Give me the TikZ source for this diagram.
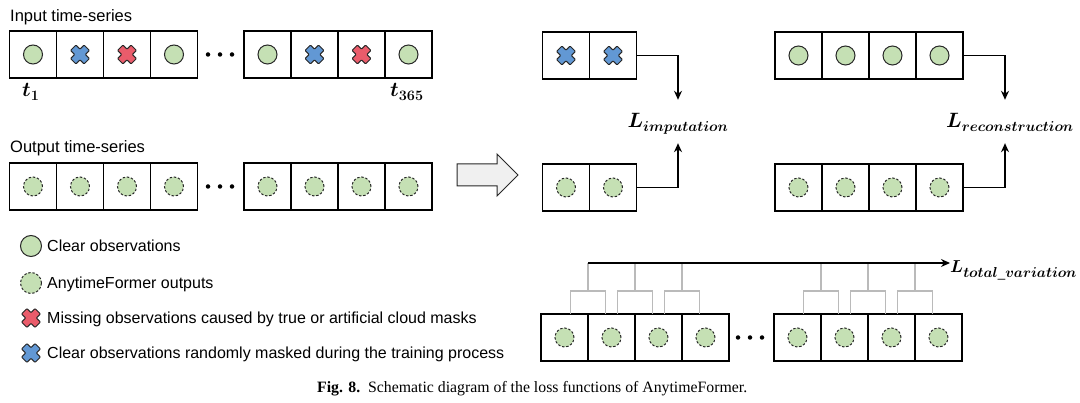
\documentclass[tikz,border=0pt]{standalone}
\usepackage{amsmath,bm}
\usepackage[no-math]{fontspec}
\setmainfont{Liberation Sans}
\newfontfamily\capfont{Liberation Serif}
\usetikzlibrary{arrows.meta, positioning}
\definecolor{obsgreen}{RGB}{197,224,180}
\definecolor{xblue}{RGB}{98,152,212}
\definecolor{xred}{RGB}{234,92,107}
\definecolor{edgegray}{RGB}{40,40,40}

\begin{document}
\begin{tikzpicture}[
    x=1pt, y=-1pt,
    cell/.style={draw, line width=1.2pt, minimum size=47pt, inner sep=0pt, outer sep=0pt},
    obs/.style={circle, draw=edgegray, line width=1pt, fill=obsgreen, minimum size=19pt, inner sep=0pt},
    outp/.style={obs, dash pattern=on 2.4pt off 1.8pt},
    lbl/.style={font=\fontsize{16.5}{19}\selectfont, inner sep=0pt},
    keytext/.style={lbl, font=\fontsize{16}{19}\selectfont, anchor=base west},
    loss/.style={font=\fontsize{20}{24}\selectfont, inner sep=0pt, text height=14pt, text depth=8pt},
    arr/.style={-{Stealth[length=9pt, width=8pt]}, line width=1.3pt},
    tvbr/.style={draw=black!27, line width=1.4pt},
    dot/.style={circle, fill=black, minimum size=4.5pt, inner sep=0pt},
    bigarrow/.style={draw=edgegray, line width=1pt, fill=black!6},
    pics/xmark/.style={code={
        \filldraw[fill=#1, draw=edgegray, line width=0.9pt, rotate=45, rounded corners=0.8pt]
          (3.8,9.6) -- (3.8,3.8) -- (9.6,3.8) -- (9.6,-3.8) -- (3.8,-3.8) -- (3.8,-9.6)
          -- (-3.8,-9.6) -- (-3.8,-3.8) -- (-9.6,-3.8) -- (-9.6,3.8) -- (-3.8,3.8) -- (-3.8,9.6) -- cycle;}},
]
\useasboundingbox (0,0) rectangle (1080,403);

% ── Input time-series ──
\node[lbl, anchor=base west] (inlbl) at (10,21.5) {Input time-series};
\foreach \i/\x in {1/33,2/80,3/127,4/174,5/267.5,6/314.5,7/361.5,8/408.5}
    \node[cell] (in\i) at (\x,54.5) {};
\foreach \c in {in1,in4,in5,in8} \node[obs] (o-\c) at (\c) {};
\pic at (in2) {xmark=xblue};
\pic at (in6) {xmark=xblue};
\pic at (in3) {xmark=xred};
\pic at (in7) {xmark=xred};
\foreach \x in {208,220,232} \node[dot] (da\x) at (\x,54.5) {};
\node[loss, anchor=base west, text height=, text depth=] (tlo) at (22,97) {$\bm{t_{1}}$};
\node[loss, anchor=base west, text height=, text depth=] (thi) at (390,97) {$\bm{t_{365}}$};

% ── Output time-series ──
\node[lbl, anchor=base west] (outlbl) at (10,153) {Output time-series};
\foreach \i/\x in {1/33,2/80,3/127,4/174,5/267.5,6/314.5,7/361.5,8/408.5} {
    \node[cell] (out\i) at (\x,186.5) {};
    \node[outp] (oo\i) at (out\i) {};
}
\foreach \x in {208,220,232} \node[dot] (db\x) at (\x,186.5) {};

% ── Big arrow ──
\draw[bigarrow] (457,164) -- (497,164) -- (497,154) -- (518,175) -- (497,196) -- (497,186) -- (457,186) -- cycle;

% ── Imputation loss ──
\node[cell] (ia1) at (566,55.5) {};
\node[cell] (ia2) at (613,55.5) {};
\pic at (ia1) {xmark=xblue};
\pic at (ia2) {xmark=xblue};
\node[cell] (ib1) at (566,187.5) {};
\node[cell] (ib2) at (613,187.5) {};
\node[outp] (ob1) at (ib1) {};
\node[outp] (ob2) at (ib2) {};
\node[loss, anchor=base] (Limp) at (678,128) {$\bm{L_{imputation}}$};
\draw[arr, shorten >=14pt] (ia2.east) -| (Limp.north);
\draw[arr, shorten >=7pt] (ib2.east) -| (Limp.south);

% ── Reconstruction loss ──
\foreach \i/\x in {1/798.5,2/845.5,3/892.5,4/939.5} {
    \node[cell] (ra\i) at (\x,55.5) {};
    \node[obs] (oa\i) at (ra\i) {};
    \node[cell] (rb\i) at (\x,187.5) {};
    \node[outp] (orb\i) at (rb\i) {};
}
\node[loss, anchor=base] (Lrec) at (1010,128) {$\bm{L_{reconstruction}}$};
\draw[arr, shorten >=14pt] (ra4.east) -| ([xshift=-5pt]Lrec.north);
\draw[arr, shorten >=7pt] (rb4.east) -| ([xshift=-5pt]Lrec.south);

% ── Total variation loss ──
\coordinate (tvtop) at (0,263);
\foreach \i/\x in {1/564.5,2/611.5,3/658.5,4/705.5} {
    \node[cell] (tv\i) at (\x,337.5) {};
    \node[outp] (otv\i) at (tv\i) {};
}
\foreach \i/\x in {1/797.5,2/844.5,3/891.5,4/938.5} {
    \node[cell] (tw\i) at (\x,337.5) {};
    \node[outp] (otw\i) at (tw\i) {};
}
\foreach \x in {738,750,762} \node[dot] (dc\x) at (\x,337.5) {};
\foreach \c in {tv1,tv2,tv3,tw1,tw2,tw3} {
    \draw[tvbr] ([xshift=-17.5pt]\c.north east) |- ([yshift=23pt]\c.north east) -| ([xshift=17.5pt]\c.north east);
    \draw[tvbr] ([yshift=23pt]\c.north east) -- (\c.north east |- tvtop);
}
\node[loss, font=\fontsize{19}{23}\selectfont, anchor=base west, text height=, text depth=] (Ltv) at (950,273) {$\bm{L_{total\_variation}}$};
\draw[arr] (tv1.north east |- tvtop) -- (tvtop -| Ltv.west);

% ── Legend ──
\node[obs, minimum size=21pt] (k1) at (31,246) {};
\node[keytext] (k1t) at (47,252) {Clear observations};
\node[outp, minimum size=21pt] (k2) at (31,283) {};
\node[keytext] (k2t) at (47,289) {AnytimeFormer outputs};
\pic at (31,318) {xmark=xred};
\node[keytext] (k3t) at (47,324) {Missing observations caused by true or artificial cloud masks};
\pic at (31,353) {xmark=xblue};
\node[keytext] (k4t) at (47,359) {Clear observations randomly masked during the training process};

% ── Caption ──
\node[anchor=base west, inner sep=0pt, font=\capfont\fontsize{15.8}{18}\selectfont] (cap) at (317,393)
    {\textbf{Fig. 8.}\enspace Schematic diagram of the loss functions of AnytimeFormer.};

\end{tikzpicture}
\end{document}
